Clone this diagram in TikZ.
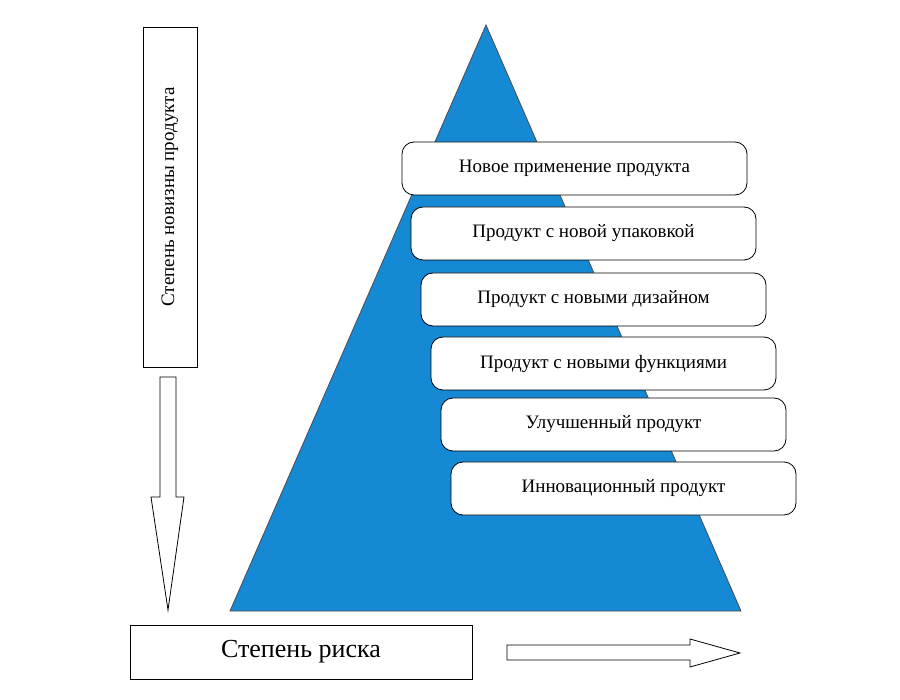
\documentclass[tikz,border=0pt]{standalone}
\usepackage{fontspec}
\setmainfont{Liberation Serif}
\begin{document}
\begin{tikzpicture}[x=1pt,y=-1pt,
  rbox/.style={draw=black,fill=white,rounded corners=12pt,line width=0.8pt},
  lbl/.style={font=\fontsize{19}{22}\selectfont},
  plain/.style={draw=black,fill=white,line width=0.8pt}]
\useasboundingbox (0,0) rectangle (900,700);
\fill[white] (0,0) rectangle (900,700);
\draw[fill={rgb,255:red,22;green,137;blue,212},draw=black!70,line width=0.8pt] (486,25) -- (741,611) -- (230,611) -- cycle;
\foreach \i/\x/\y/\t in {1/402/142/Новое применение продукта,2/411/207/Продукт с новой упаковкой,3/421/273/Продукт с новыми дизайном,4/431/337/Продукт с новыми функциями,5/441/398/Улучшенный продукт,6/451/462/Инновационный продукт}{
  \draw[rbox] (\x,\y) rectangle ++(345,53);
  \node[lbl] (b\i) at (\x+172.5,\y+26.5) {\t};
}
\draw[plain] (143,27) rectangle (197,367);
\node[lbl,rotate=90] (v) at (170,197) {Степень новизны продукта};
\draw[plain] (160,377) -- (176,377) -- (176,497) -- (184,497) -- (168,610) -- (151,497) -- (160,497) -- cycle;
\draw[plain] (130,625) rectangle (472,679);
\node[font=\fontsize{26}{30}\selectfont] (r) at (301,652) {Степень риска};
\draw[plain] (507,645) -- (690,645) -- (690,639) -- (740,653) -- (690,667) -- (690,660) -- (507,660) -- cycle;
\end{tikzpicture}
\end{document}
